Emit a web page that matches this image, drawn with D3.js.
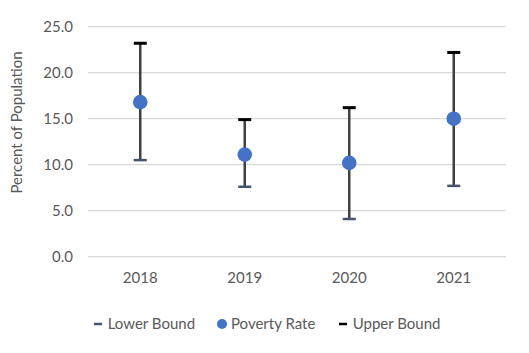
<!DOCTYPE html>
<html><head><meta charset="utf-8">
<script src="https://cdn.jsdelivr.net/npm/d3@7"></script>
<style>body{margin:0;background:#fff}svg{display:block}</style>
</head><body>
<script>
const years = ["2018","2019","2020","2021"];
const povertyRate = [16.8, 11.1, 10.2, 15.0];
const lowerBound = [10.5, 7.6, 4.1, 7.7];
const upperBound = [23.2, 14.9, 16.2, 22.2];
const yTicks = [0, 5, 10, 15, 20, 25];
const legendLabels = ["Lower Bound", "Poverty Rate", "Upper Bound"];

const W = 529, H = 353;
const font = "Lato, 'Open Sans', sans-serif";
const fs = 15;
const textColor = "#595959";
const svg = d3.select("body").append("svg").attr("width", W).attr("height", H);

const x = d3.scaleBand().domain(years).range([88, 506]);
const y = d3.scaleLinear().domain([0, 25]).range([256.7, 26.7]);

// gridlines
svg.append("g").selectAll("line").data(yTicks).join("line")
  .attr("x1", 88).attr("x2", 506)
  .attr("y1", d => y(d)).attr("y2", d => y(d))
  .attr("stroke", "#d9d9d9").attr("stroke-width", 1.3);

// y axis labels
const yAxis = d3.axisLeft(y).tickValues(yTicks).tickFormat(d3.format(".1f")).tickSize(0).tickPadding(0);
const gy = svg.append("g").attr("transform", "translate(73,0)").call(yAxis);
gy.select(".domain").remove();
gy.selectAll("text").attr("font-family", font).attr("font-size", fs).attr("fill", textColor);

// x axis labels
const xAxis = d3.axisBottom(x).tickSize(0).tickPadding(0);
const gx = svg.append("g").attr("transform", "translate(0,272)").call(xAxis);
gx.select(".domain").remove();
gx.selectAll("text").attr("font-family", font).attr("font-size", fs).attr("fill", textColor);

// y title
svg.append("text").attr("transform", "translate(21.5,122.5) rotate(-90)")
  .attr("text-anchor", "middle").attr("font-family", font).attr("font-size", fs)
  .attr("fill", textColor).text("Percent of Population");

const cx = d => x(d) + x.bandwidth() / 2;
const g = svg.append("g");
// error lines
g.selectAll("line.err").data(years).join("line").attr("class", "err")
  .attr("x1", cx).attr("x2", cx)
  .attr("y1", (d, i) => y(upperBound[i])).attr("y2", (d, i) => y(lowerBound[i]))
  .attr("stroke", "#404040").attr("stroke-width", 2.5);
// lower caps
g.selectAll("line.lo").data(years).join("line").attr("class", "lo")
  .attr("x1", d => cx(d) - 6.5).attr("x2", d => cx(d) + 6.5)
  .attr("y1", (d, i) => y(lowerBound[i])).attr("y2", (d, i) => y(lowerBound[i]))
  .attr("stroke", "#44546A").attr("stroke-width", 2.5);
// upper caps
g.selectAll("line.up").data(years).join("line").attr("class", "up")
  .attr("x1", d => cx(d) - 6.5).attr("x2", d => cx(d) + 6.5)
  .attr("y1", (d, i) => y(upperBound[i])).attr("y2", (d, i) => y(upperBound[i]))
  .attr("stroke", "#000").attr("stroke-width", 3);
// points
g.selectAll("circle").data(years).join("circle")
  .attr("cx", cx).attr("cy", (d, i) => y(povertyRate[i])).attr("r", 7.3)
  .attr("fill", "#4472C4");

// legend
const lg = svg.append("g").attr("font-family", font).attr("font-size", fs).attr("fill", textColor);
const ly = 324;
const lx = [94, 217, 339];
lg.append("line").attr("x1", lx[0]).attr("x2", lx[0] + 8).attr("y1", ly).attr("y2", ly).attr("stroke", "#44546A").attr("stroke-width", 2.5);
lg.append("circle").attr("cx", lx[1] + 5).attr("cy", ly).attr("r", 5).attr("fill", "#4472C4");
lg.append("line").attr("x1", lx[2]).attr("x2", lx[2] + 8).attr("y1", ly).attr("y2", ly).attr("stroke", "#000").attr("stroke-width", 2.5);
const tx = [107.7, 231, 352.7];
legendLabels.forEach((t, i) => {
  lg.append("text").attr("x", tx[i]).attr("y", ly).attr("dy", "0.35em").text(t);
});
</script>
</body></html>
